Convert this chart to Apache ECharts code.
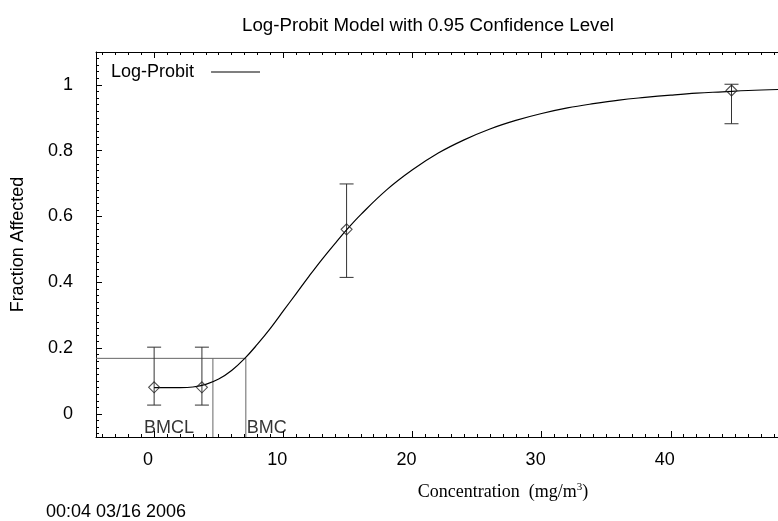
<!DOCTYPE html>
<html><head><meta charset="utf-8">
<script src="https://cdn.jsdelivr.net/npm/echarts@6/dist/echarts.min.js"></script>
<style>html,body{margin:0;padding:0;background:#fff}#c{width:778px;height:521px}</style>
</head><body><div id="c"></div>
<script>
// Observed data (dose groups) with 95% confidence limits
const doses = [0, 3.7, 14.9, 44.7];
const observed = [0.081, 0.081, 0.561, 0.983];
const lowerCI = [0.027, 0.027, 0.415, 0.882];
const upperCI = [0.203, 0.203, 0.699, 1.002];

// Fitted Log-Probit curve
const curveX = [0, 1, 2, 3, 4, 5, 6, 7, 8, 9, 10, 11, 12, 13, 14, 15, 16, 18, 20, 22, 24, 26, 28, 30, 32, 34, 36, 38, 40, 42, 44, 46, 48.3];
const curveY = [0.080, 0.080, 0.080, 0.082, 0.090, 0.106, 0.132, 0.168, 0.212, 0.260, 0.313, 0.366, 0.419, 0.470, 0.518, 0.564, 0.606, 0.681, 0.742, 0.793, 0.833, 0.866, 0.892, 0.913, 0.930, 0.943, 0.954, 0.962, 0.969, 0.975, 0.979, 0.983, 0.986];

// Benchmark values
const bmrLevel = 0.169;
const bmclValue = 4.55;
const bmcValue = 7.1;

// Axis ticks
const xTicks = [0, 10, 20, 30, 40];
const yTicks = [0, 0.2, 0.4, 0.6, 0.8, 1];

const X_MIN = -4.5, X_MAX = 48.3, Y_MIN = -0.07, Y_MAX = 1.1;

const xMinor = [];
for (let v = -4; v <= 48; v++) xMinor.push(v);
const yMinor = [];
for (let k = -3; k <= 54; k++) yMinor.push(Math.round(k * 2) / 100);

const FONT = 'Liberation Sans';
const chart = echarts.init(document.getElementById('c'), null, {renderer: 'canvas'});

function xAx(pos, opts) {
  return Object.assign({
    type: 'value', position: pos, min: X_MIN, max: X_MAX, gridIndex: 0,
    splitLine: {show: false},
    axisLine: {show: false, onZero: false, lineStyle: {color: '#000', width: 1}},
    axisTick: {show: false},
    axisLabel: {show: false}
  }, opts);
}
function yAx(pos, opts) {
  return Object.assign({
    type: 'value', position: pos, min: Y_MIN, max: Y_MAX, gridIndex: 0,
    splitLine: {show: false},
    axisLine: {show: false, onZero: false, lineStyle: {color: '#000', width: 1}},
    axisTick: {show: false},
    axisLabel: {show: false}
  }, opts);
}

const option = {
  animation: false,
  backgroundColor: '#fff',
  title: {
    text: 'Log-Probit Model with 0.95 Confidence Level',
    left: 423, top: 11, textAlign: 'center',
    textStyle: {fontFamily: FONT, fontSize: 18.7, fontWeight: 'normal', color: '#000'}
  },
  legend: {
    data: ['Log-Probit'],
    left: 106, top: 58, align: 'right',
    itemWidth: 49, itemHeight: 14,
    itemStyle: {color: 'rgba(0,0,0,0)', borderColor: 'rgba(0,0,0,0)', borderWidth: 0},
    lineStyle: {color: '#000', width: 1.2},
    textStyle: {fontFamily: FONT, fontSize: 18, color: '#000', padding: [0, 12, 10, 0]}
  },
  grid: {left: 96, right: 0, top: 52, bottom: 84, containLabel: false},
  xAxis: [
    xAx('bottom', {
      axisLine: {show: true, onZero: false, lineStyle: {color: '#000', width: 1}},
      axisTick: {show: true, inside: true, length: 6, customValues: xTicks, lineStyle: {color: '#000'}},
      axisLabel: {show: true, customValues: xTicks, margin: 14, fontFamily: FONT, fontSize: 18, color: '#000', padding: [0, 12, 0, 0]},
      name: 'Concentration  (mg/m{sup|3})',
      nameLocation: 'middle', nameGap: 45,
      nameTextStyle: {
        fontFamily: 'Liberation Serif', fontSize: 18, color: '#000', padding: [0, 0, 0, 132],
        rich: {sup: {fontFamily: 'Liberation Serif', fontSize: 11, color: '#000', padding: [0, 0, 9, 0]}}
      }
    }),
    xAx('bottom', {
      axisTick: {show: true, inside: true, length: 3, customValues: xMinor, lineStyle: {color: '#000'}}
    }),
    xAx('top', {
      axisLine: {show: true, onZero: false, lineStyle: {color: '#000', width: 1}},
      axisTick: {show: true, inside: true, length: 6, customValues: xTicks, lineStyle: {color: '#000'}}
    }),
    xAx('top', {
      axisTick: {show: true, inside: true, length: 3, customValues: xMinor, lineStyle: {color: '#000'}}
    })
  ],
  yAxis: [
    yAx('left', {
      axisLine: {show: true, onZero: false, lineStyle: {color: '#000', width: 1}},
      axisTick: {show: true, inside: true, length: 6, customValues: yTicks, lineStyle: {color: '#000'}},
      axisLabel: {show: true, customValues: yTicks, margin: 23, fontFamily: FONT, fontSize: 18, color: '#000'},
      name: 'Fraction Affected', nameLocation: 'middle', nameGap: 69,
      nameTextStyle: {fontFamily: FONT, fontSize: 18, color: '#000'}
    }),
    yAx('left', {
      axisTick: {show: true, inside: true, length: 3, customValues: yMinor, lineStyle: {color: '#000'}}
    })
  ],
  graphic: [{
    type: 'text', x: 46, y: 512,
    style: {text: '00:04 03/16 2006', font: '18px "Liberation Sans"', fill: '#000', verticalAlign: 'middle', align: 'left'}
  }],
  series: [
    {
      name: 'Log-Probit', type: 'line', xAxisIndex: 0, yAxisIndex: 0,
      data: curveX.map((x, i) => [x, curveY[i]]),
      symbol: 'none', smooth: 0.4, clip: true,
      lineStyle: {color: '#000', width: 1.2}, itemStyle: {color: '#000'}, z: 4
    },
    {
      name: 'BMR', type: 'line', xAxisIndex: 0, yAxisIndex: 0, symbol: 'none', silent: true,
      data: [[X_MIN, bmrLevel], [bmcValue, bmrLevel]],
      lineStyle: {color: '#666', width: 1}, z: 2
    },
    {
      name: 'BMCLline', type: 'line', xAxisIndex: 0, yAxisIndex: 0, symbol: 'none', silent: true,
      data: [[bmclValue, Y_MIN], [bmclValue, bmrLevel]],
      lineStyle: {color: '#666', width: 1}, z: 2
    },
    {
      name: 'BMCline', type: 'line', xAxisIndex: 0, yAxisIndex: 0, symbol: 'none', silent: true,
      data: [[bmcValue, Y_MIN], [bmcValue, bmrLevel]],
      lineStyle: {color: '#666', width: 1}, z: 2
    },
    {
      name: 'CI', type: 'custom', xAxisIndex: 0, yAxisIndex: 0, silent: true, z: 3,
      data: doses.map((d, i) => [d, lowerCI[i], upperCI[i]]),
      renderItem: function (params, api) {
        const x = api.value(0);
        const lo = api.coord([x, api.value(1)]);
        const hi = api.coord([x, api.value(2)]);
        const hw = 7;
        const st = {stroke: '#333', lineWidth: 1};
        return {
          type: 'group',
          children: [
            {type: 'line', shape: {x1: lo[0], y1: lo[1], x2: hi[0], y2: hi[1]}, style: st},
            {type: 'line', shape: {x1: lo[0] - hw, y1: lo[1], x2: lo[0] + hw, y2: lo[1]}, style: st},
            {type: 'line', shape: {x1: hi[0] - hw, y1: hi[1], x2: hi[0] + hw, y2: hi[1]}, style: st}
          ]
        };
      }
    },
    {
      name: 'Observed', type: 'scatter', xAxisIndex: 0, yAxisIndex: 0,
      data: doses.map((d, i) => [d, observed[i]]),
      symbol: 'diamond', symbolSize: 11, z: 5,
      itemStyle: {color: 'rgba(0,0,0,0)', borderColor: '#222', borderWidth: 1.1}
    },
    {
      name: 'BMlabels', type: 'scatter', xAxisIndex: 0, yAxisIndex: 0, symbolSize: 0, silent: true,
      data: [
        {value: [bmclValue, Y_MIN], label: {position: 'left', distance: 19, formatter: 'BMCL'}},
        {value: [bmcValue, Y_MIN], label: {position: 'right', distance: 1, formatter: 'BMC'}}
      ],
      label: {show: true, fontFamily: FONT, fontSize: 18, color: '#000', offset: [0, -9]}
    }
  ]
};
chart.setOption(option);
</script></body></html>
